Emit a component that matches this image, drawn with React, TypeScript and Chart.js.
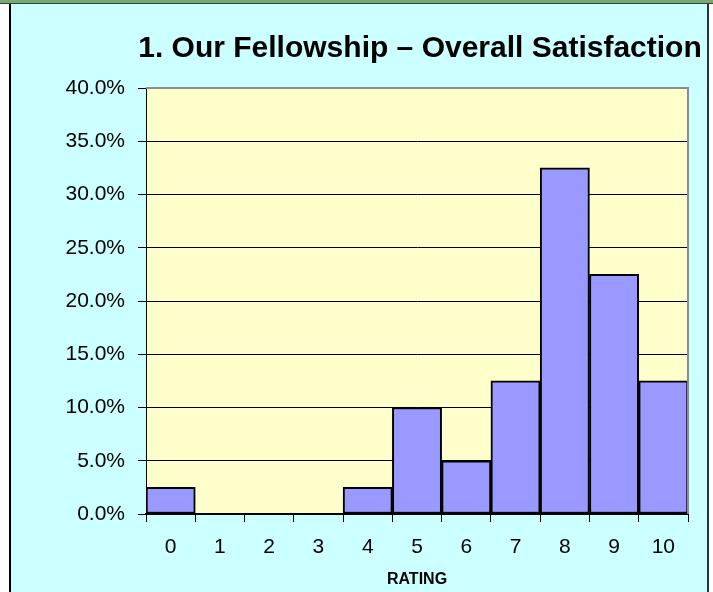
import React, { useEffect, useRef } from "react";
import { Chart, registerables } from "chart.js";

Chart.register(...registerables);

const TITLE = "1. Our Fellowship – Overall Satisfaction";
const X_TITLE = "RATING";
const ratings = ["0", "1", "2", "3", "4", "5", "6", "7", "8", "9", "10"];
const percents = [2.5, 0, 0, 0, 2.5, 10, 5, 12.5, 32.5, 22.5, 12.5];
const yMin = 0;
const yMax = 40;
const yStep = 5;

const FONT = 'Arial, "Liberation Sans", sans-serif';

const plotDecor = {
  id: "plotDecor",
  beforeDraw(chart: any) {
    const { ctx, chartArea: a } = chart;
    ctx.save();
    ctx.fillStyle = "#FFFFCC";
    ctx.fillRect(a.left, a.top, a.right - a.left, a.bottom - a.top);
    ctx.restore();
  },
  afterDraw(chart: any) {
    const { ctx, chartArea: a } = chart;
    ctx.save();
    ctx.strokeStyle = "#8C8C8C";
    ctx.lineWidth = 2;
    ctx.beginPath();
    ctx.moveTo(a.left, a.top);
    ctx.lineTo(a.right, a.top);
    ctx.lineTo(a.right, a.bottom);
    ctx.stroke();
    ctx.fillStyle = "#000";
    ctx.font = `bold 30px ${FONT}`;
    ctx.textAlign = "center";
    ctx.textBaseline = "middle";
    ctx.fillText(TITLE, (a.left + a.right) / 2 + 3, 45);
    ctx.restore();
  },
};

export default function App() {
  const ref = useRef<HTMLCanvasElement>(null);
  useEffect(() => {
    if (!ref.current) return;
    const chart = new Chart(ref.current, {
      type: "bar",
      data: {
        labels: ratings,
        datasets: [
          {
            data: percents,
            backgroundColor: "#9999FF",
            borderColor: "#000000",
            borderWidth: 2,
            borderSkipped: false,
            barPercentage: 1,
            categoryPercentage: 1,
          },
        ],
      },
      options: {
        responsive: false,
        animation: false,
        layout: { padding: { left: 0, right: 19, top: 84, bottom: 0 } },
        plugins: {
          legend: { display: false },
          title: { display: false },
          tooltip: { enabled: false },
        },
        scales: {
          x: {
            offset: true,
            grid: {
              offset: true,
              drawOnChartArea: false,
              drawTicks: true,
              tickLength: 8,
              color: "#000",
            },
            border: { color: "#000", width: 2 },
            ticks: {
              color: "#000",
              font: { family: FONT, size: 21 },
              padding: 13,
              maxRotation: 0,
            },
            title: {
              display: true,
              text: X_TITLE,
              color: "#000",
              font: { family: FONT, size: 16, weight: "bold" },
              padding: { top: 4, bottom: 3 },
            },
            afterFit(scale: any) {
              scale.height = 78;
            },
          },
          y: {
            min: yMin,
            max: yMax,
            grid: { color: "#000", lineWidth: 1, tickLength: 8 },
            border: { color: "#000", width: 1 },
            ticks: {
              stepSize: yStep,
              color: "#000",
              font: { family: FONT, size: 21 },
              padding: 13,
              callback: (v: any) => Number(v).toFixed(1) + "%",
            },
            afterFit(scale: any) {
              scale.width = 135;
            },
          },
        },
      },
      plugins: [plotDecor],
    });
    return () => chart.destroy();
  }, []);

  return (
    <div
      style={{
        position: "absolute",
        left: 0,
        top: 0,
        width: 713,
        height: 592,
        background: "#FFFFFF",
        overflow: "hidden",
      }}
    >
      <div
        style={{
          position: "absolute",
          left: 0,
          top: 0,
          width: 713,
          height: 3,
          background: "#78A878",
          borderBottom: "1px solid #2E4A2E",
        }}
      />
      <div
        style={{
          position: "absolute",
          left: 9,
          top: 4,
          width: 696,
          height: 588,
          background: "#CCFFFF",
          borderLeft: "2px solid #000",
          borderRight: "2px solid #223838",
        }}
      >
        <canvas ref={ref} width={696} height={588} style={{ display: "block" }} />
      </div>
    </div>
  );
}
